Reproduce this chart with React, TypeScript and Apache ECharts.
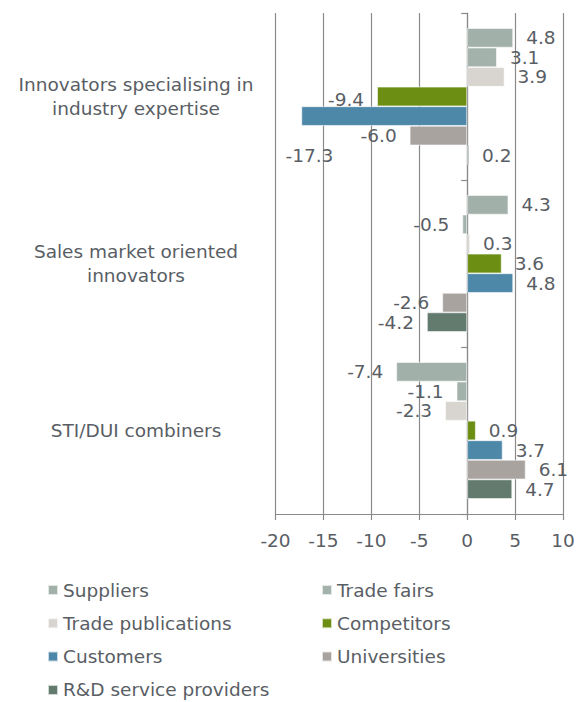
import React, { useEffect, useRef } from "react";
import * as echarts from "echarts";

const categories = [
  "Innovators specialising in\nindustry expertise",
  "Sales market oriented\ninnovators",
  "STI/DUI combiners",
];
const seriesNames = [
  "Suppliers",
  "Trade fairs",
  "Trade publications",
  "Competitors",
  "Customers",
  "Universities",
  "R&D service providers",
];
const suppliers = [4.8, 4.3, -7.4];
const tradeFairs = [3.1, -0.5, -1.1];
const tradePublications = [3.9, 0.3, -2.3];
const competitors = [-9.4, 3.6, 0.9];
const customers = [-17.3, 4.8, 3.7];
const universities = [-6.0, -2.6, 6.1];
const rdProviders = [0.2, -4.2, 4.7];
const xTicks = { min: -20, max: 10, interval: 5 };

const colors = ["#a1b1a9", "#a3b3ac", "#d8d4d0", "#6b8e13", "#4e88a9", "#a9a39f", "#637a6f"];
const textColor = "#595e65";
const lineColor = "#8a8a8a";
const FONT = "DejaVu Sans";

export default function App() {
  const ref = useRef<HTMLDivElement>(null);
  useEffect(() => {
    if (!ref.current) return;
    const chart = echarts.init(ref.current, null, { renderer: "svg" });
    const allValues = [suppliers, tradeFairs, tradePublications, competitors, customers, universities, rdProviders];
    const series = allValues.map((vals, si) => ({
      name: seriesNames[si],
      type: "bar",
      yAxisIndex: 0,
      barGap: "0%",
      barCategoryGap: "18%",
      itemStyle: { color: colors[si], borderColor: "rgba(255,255,255,0.7)", borderWidth: 0.8 },
      data: vals.map((v) => {
        const item: any = {
          value: v,
          label: { position: v >= 0 ? "right" : "left" },
        };
        if (si === 4 && v === -17.3) {
          item.label = { position: "left", offset: [45, 39] };
        }
        if (si === 3 && v === -9.4) {
          item.label = { position: "left", offset: [0, 3] };
        }
        return item;
      }),
      label: {
        show: true,
        distance: 13,
        fontFamily: FONT,
        fontSize: 18.5,
        color: textColor,
        formatter: (p: any) => Number(p.value).toFixed(1),
      },
    }));
    const legendCommon = {
      orient: "vertical",
      icon: "rect",
      itemWidth: 10,
      itemHeight: 10,
      itemGap: 13.3,
      top: 580,
      height: 122,
      padding: 0,
      textStyle: { fontFamily: FONT, fontSize: 18.5, color: textColor, lineHeight: 20 },
    };
    chart.setOption({
      animation: false,
      color: colors,
      grid: { left: 275.5, right: 20, top: 13, bottom: 188 },
      legend: [
        { ...legendCommon, left: 47, data: ["Suppliers", "Trade publications", "Customers", "R&D service providers"] },
        { ...legendCommon, left: 321, data: ["Trade fairs", "Competitors", "Universities"] },
      ],
      xAxis: {
        type: "value",
        min: xTicks.min,
        max: xTicks.max,
        interval: xTicks.interval,
        axisLine: { show: true, onZero: false, lineStyle: { color: lineColor, width: 1.2 } },
        axisTick: { show: true, length: 6, lineStyle: { color: lineColor, width: 1.2 } },
        splitLine: { show: true, lineStyle: { color: lineColor, width: 1.2 } },
        axisLabel: { fontFamily: FONT, fontSize: 18.5, color: textColor, margin: 17 },
      },
      yAxis: [
        {
          type: "category",
          data: categories,
          inverse: true,
          position: "left",
          axisLine: { show: false, onZero: false },
          axisTick: { show: false },
          axisLabel: {
            fontFamily: FONT,
            fontSize: 18.5,
            color: textColor,
            align: "center",
            margin: 139.5,
            lineHeight: 24,
          },
        },
        {
          type: "category",
          data: categories,
          inverse: true,
          position: "right",
          axisLine: { show: true, onZero: true, lineStyle: { color: lineColor, width: 1.2 } },
          axisTick: { show: true, inside: true, length: 6, lineStyle: { color: lineColor, width: 1.2 } },
          axisLabel: { show: false },
        },
      ],
      series,
    });
    return () => chart.dispose();
  }, []);
  return (
    <div
      ref={ref}
      style={{ position: "fixed", left: 0, top: 0, width: 583, height: 702, background: "#fff" }}
    />
  );
}
